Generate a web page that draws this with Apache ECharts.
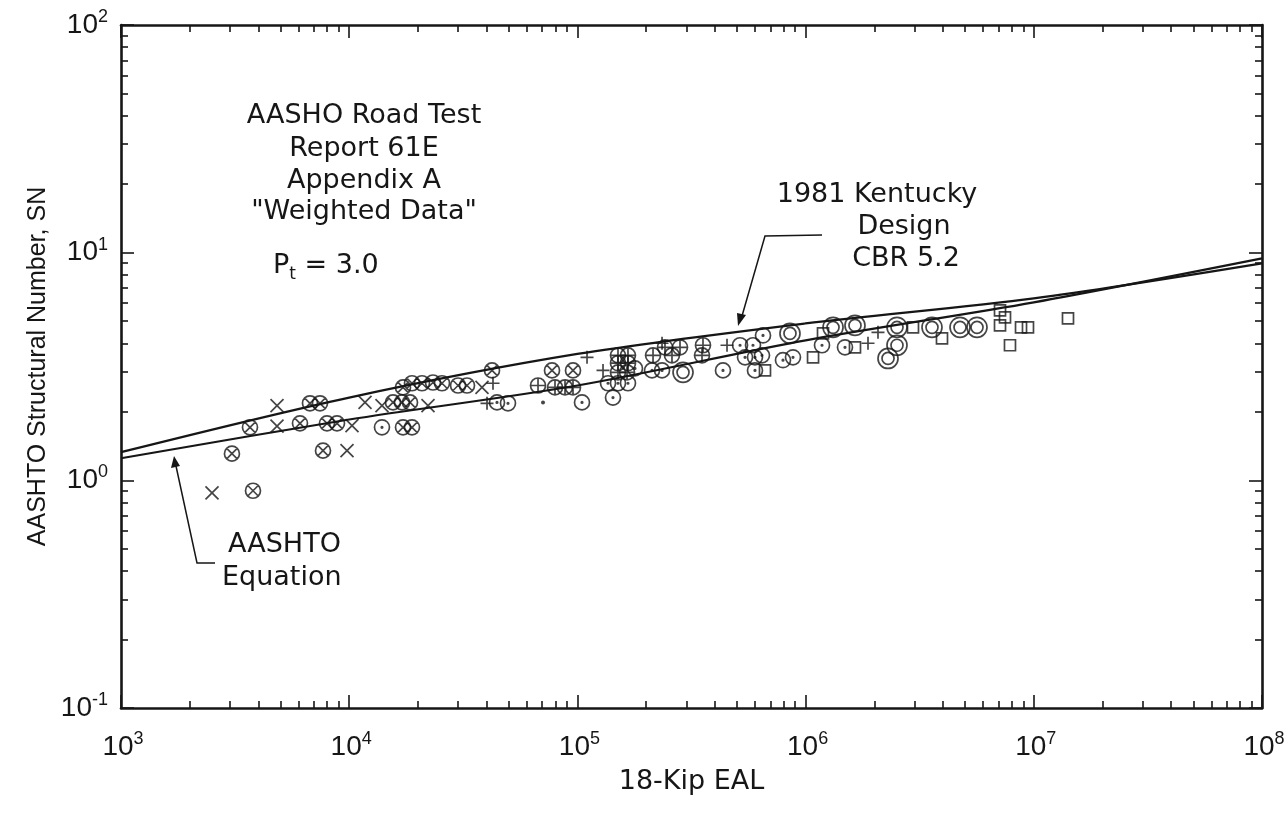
<!DOCTYPE html>
<html>
<head>
<meta charset="utf-8">
<style>
  html, body { margin: 0; padding: 0; background: #fff; }
  #chart { width: 1285px; height: 814px; }
</style>
<script src="https://cdn.jsdelivr.net/npm/echarts@6/dist/echarts.min.js"></script>
</head>
<body>
<div id="chart"></div>
<script>
// axis ticks
const xDecades = [1e3, 1e4, 1e5, 1e6, 1e7, 1e8]
const yDecades = [0.1, 1, 10, 100]
const minorSteps = [2, 3, 4, 5, 6, 7, 8, 9]

// design curves, [18-kip EAL, SN]
const kentuckyLine = [[1e3, 1.33], [1e4, 2.31], [1e5, 3.59], [1e6, 4.89], [1e7, 6.30], [1e8, 8.98]]
const aashtoLine = [[1e3, 1.25], [1e4, 1.85], [1e5, 2.61], [1e6, 4.12], [1e7, 6.05], [1e8, 9.44]]

// weighted road test data, one array per symbol
const circleCross = [
  [3788, 0.90], [3063, 1.31], [3675, 1.71], [6732, 2.18], [7447, 2.18], [6086, 1.78],
  [7993, 1.78], [8842, 1.78], [7677, 1.35], [15555, 2.20], [17036, 2.20], [18470, 2.20],
  [17210, 1.71], [18843, 1.71], [17210, 2.56], [18843, 2.67], [20846, 2.67], [23290, 2.69],
  [25507, 2.67], [29990, 2.61], [32830, 2.61], [42250, 3.04], [77400, 3.04], [95660, 3.04]
]
const cross = [
  [2505, 0.88], [4827, 2.13], [4827, 1.73], [9781, 1.35], [11730, 2.20], [13920, 2.13],
  [10287, 1.74], [22148, 2.13], [38190, 2.56]
]
const circlePlus = [
  [67210, 2.61], [79770, 2.56], [88240, 2.56], [95660, 2.56], [150600, 3.54], [166600, 3.54],
  [150600, 3.27], [166600, 3.27], [150600, 2.98], [165000, 2.98], [214500, 3.54], [242000, 3.84],
  [281600, 3.84], [259700, 3.54], [355100, 3.92], [351600, 3.54]
]
const plus = [
  [42670, 2.67], [110200, 3.47], [129500, 3.04], [452500, 3.92], [40170, 2.18], [234900, 4.00],
  [2.076e6, 4.47], [1.877e6, 4.00]
]
const circleDot = [
  [44430, 2.20], [49640, 2.18], [104760, 2.20], [136200, 2.67], [150600, 2.67], [166600, 2.67],
  [143200, 2.31], [178800, 3.10], [212300, 3.04], [234900, 3.04], [434500, 3.04], [516100, 3.92],
  [588100, 3.92], [542700, 3.47], [600100, 3.47], [644100, 3.54], [600100, 3.04], [650600, 4.33],
  [796000, 3.37], [880500, 3.47], [1.18e6, 3.92], [1.488e6, 3.84], [13920, 1.71]
]
const doubleCircle = [
  [290300, 2.98], [854200, 4.42], [1.319e6, 4.70], [1.646e6, 4.79], [2.515e6, 4.70], [2.515e6, 3.92],
  [2.297e6, 3.43], [3.58e6, 4.70], [4.75e6, 4.70], [5.638e6, 4.70]
]
const square = [
  [663800, 3.04], [1.078e6, 3.47], [1.192e6, 4.42], [1.646e6, 3.84], [2.955e6, 4.70], [3.96e6, 4.20],
  [7.111e6, 5.58], [7.478e6, 5.20], [7.111e6, 4.79], [8.79e6, 4.70], [9.43e6, 4.70], [7.864e6, 3.92],
  [1.412e7, 5.15]
]
const dot = [[70680, 2.20]]

const ink = '#161616'
const font = '"Liberation Sans", Arial, sans-serif'
const noteFont = '27px "DejaVu Sans", sans-serif'

const ring = 'M0,10 A10,10 0 1 1 20,10 A10,10 0 1 1 0,10 Z '
const symbols = {
  circleCross: 'path://' + ring + 'M3,3 L17,17 M17,3 L3,17',
  circlePlus: 'path://' + ring + 'M10,0 L10,20 M0,10 L20,10',
  circleDot: 'path://' + ring + 'M9,10 A1,1 0 1 1 11,10 A1,1 0 1 1 9,10 Z',
  doubleCircle: 'path://' + ring + 'M4,10 A6,6 0 1 1 16,10 A6,6 0 1 1 4,10 Z',
  cross: 'path://M0,0 L20,20 M20,0 L0,20',
  plus: 'path://M10,0 L10,20 M0,10 L20,10',
  square: 'path://M0,0 L20,0 L20,20 L0,20 Z'
}

function minorValues(decades) {
  const out = []
  decades.slice(0, -1).forEach(d => minorSteps.forEach(m => out.push(d * m)))
  return out
}

function powLabel(v) {
  const e = Math.round(Math.log10(v))
  return '{b|10}{s|' + e + '}'
}

function labelRich(padLeft) {
  return {
    b: { fontSize: 28, fontFamily: font, color: ink, lineHeight: 34, padding: [0, 0, 0, padLeft] },
    s: { fontSize: 18, fontFamily: font, color: ink, verticalAlign: 'top', lineHeight: 20 }
  }
}

function makeAxis(kind, min, max, position, major, extra) {
  const decades = kind === 'x' ? xDecades : yDecades
  const ax = {
    type: 'log',
    logBase: 10,
    min: min,
    max: max,
    position: position,
    offset: 0,
    splitLine: { show: false },
    axisLine: { show: major, lineStyle: { color: ink, width: 2.6 } },
    axisTick: {
      show: true,
      inside: true,
      length: major ? 13 : 7,
      lineStyle: { color: ink, width: 1.6 }
    },
    axisLabel: { show: false },
    minorTick: { show: false }
  }
  if (!major) ax.axisTick.customValues = minorValues(decades)
  return Object.assign(ax, extra || {})
}

const chart = echarts.init(document.getElementById('chart'))

function scatter(name, data, symbol, size) {
  return {
    type: 'scatter',
    name: name,
    data: data,
    symbol: symbol,
    symbolSize: size,
    symbolKeepAspect: true,
    itemStyle: { color: 'rgba(0,0,0,0)', borderColor: ink, borderWidth: 1.7 },
    z: 4
  }
}

function note(x, y, text, align) {
  return {
    type: 'text', x: x, y: y,
    style: { text: text, font: noteFont, fill: ink, align: align || 'center', verticalAlign: 'middle' }
  }
}

const option = {
  backgroundColor: '#fff',
  animation: false,
  grid: { left: 121, right: 23, top: 25, bottom: 106, outerBoundsMode: 'none' },
  xAxis: [
    makeAxis('x', 1e3, 1e8, 'bottom', true, {
      name: '18-Kip EAL',
      nameLocation: 'middle',
      nameGap: 60,
      nameMoveOverlap: false,
      nameTextStyle: { fontSize: 27, fontFamily: '"DejaVu Sans", sans-serif', color: ink },
      axisLabel: { show: true, margin: 22, formatter: powLabel, rich: labelRich(4) }
    }),
    makeAxis('x', 1e3, 1e8, 'bottom', false),
    makeAxis('x', 1e3, 1e8, 'top', true),
    makeAxis('x', 1e3, 1e8, 'top', false)
  ],
  yAxis: [
    makeAxis('y', 0.1, 100, 'left', true, {
      name: 'AASHTO Structural Number, SN',
      nameLocation: 'middle',
      nameGap: 70,
      nameRotate: 90,
      nameMoveOverlap: false,
      nameTextStyle: { fontSize: 25, fontFamily: font, color: ink },
      axisLabel: { show: true, margin: 13, formatter: powLabel, rich: labelRich(0) }
    }),
    makeAxis('y', 0.1, 100, 'left', false),
    makeAxis('y', 0.1, 100, 'right', true),
    makeAxis('y', 0.1, 100, 'right', false)
  ],
  series: [
    {
      type: 'line', name: '1981 Kentucky Design', data: kentuckyLine, smooth: 0.3,
      symbol: 'none', lineStyle: { color: ink, width: 2.2 }, z: 3
    },
    {
      type: 'line', name: 'AASHTO Equation', data: aashtoLine, smooth: 0.3,
      symbol: 'none', lineStyle: { color: ink, width: 2.2 }, z: 3
    },
    scatter('circleCross', circleCross, symbols.circleCross, 15),
    scatter('cross', cross, symbols.cross, 13),
    scatter('circlePlus', circlePlus, symbols.circlePlus, 15),
    scatter('plus', plus, symbols.plus, 13),
    scatter('circleDot', circleDot, symbols.circleDot, 15),
    scatter('doubleCircle', doubleCircle, symbols.doubleCircle, 20),
    scatter('square', square, symbols.square, 11),
    {
      type: 'scatter', name: 'dot', data: dot, symbol: 'circle', symbolSize: 4,
      itemStyle: { color: ink }, z: 4
    }
  ],
  graphic: [
    note(364, 116, 'AASHO Road Test'),
    note(364, 149, 'Report 61E'),
    note(364, 181, 'Appendix A'),
    note(364, 212, '"Weighted Data"'),
    {
      type: 'text', x: 273, y: 266,
      style: {
        text: '{p|P}{t|t}{p| = 3.0}', align: 'left', verticalAlign: 'middle',
        rich: {
          p: { fontSize: 27, fontFamily: '"DejaVu Sans", sans-serif', fill: ink, lineHeight: 34 },
          t: { fontSize: 17, fontFamily: '"DejaVu Sans", sans-serif', fill: ink, verticalAlign: 'bottom', lineHeight: 34 }
        }
      }
    },
    note(877, 195, '1981 Kentucky'),
    note(904, 227, 'Design'),
    note(906, 259, 'CBR 5.2'),
    note(228, 545, 'AASHTO', 'left'),
    note(222, 578, 'Equation', 'left'),
    { type: 'polyline', shape: { points: [[822, 235], [765, 236], [742, 316]] }, style: { stroke: ink, lineWidth: 1.5, fill: null } },
    { type: 'polygon', shape: { points: [[738, 326], [737, 313], [746, 315]] }, style: { fill: ink } },
    { type: 'polyline', shape: { points: [[215, 563], [197, 563], [176, 466]] }, style: { stroke: ink, lineWidth: 1.5, fill: null } },
    { type: 'polygon', shape: { points: [[174, 456], [171, 468], [180, 466]] }, style: { fill: ink } }
  ]
}

chart.setOption(option)
</script>
</body>
</html>
